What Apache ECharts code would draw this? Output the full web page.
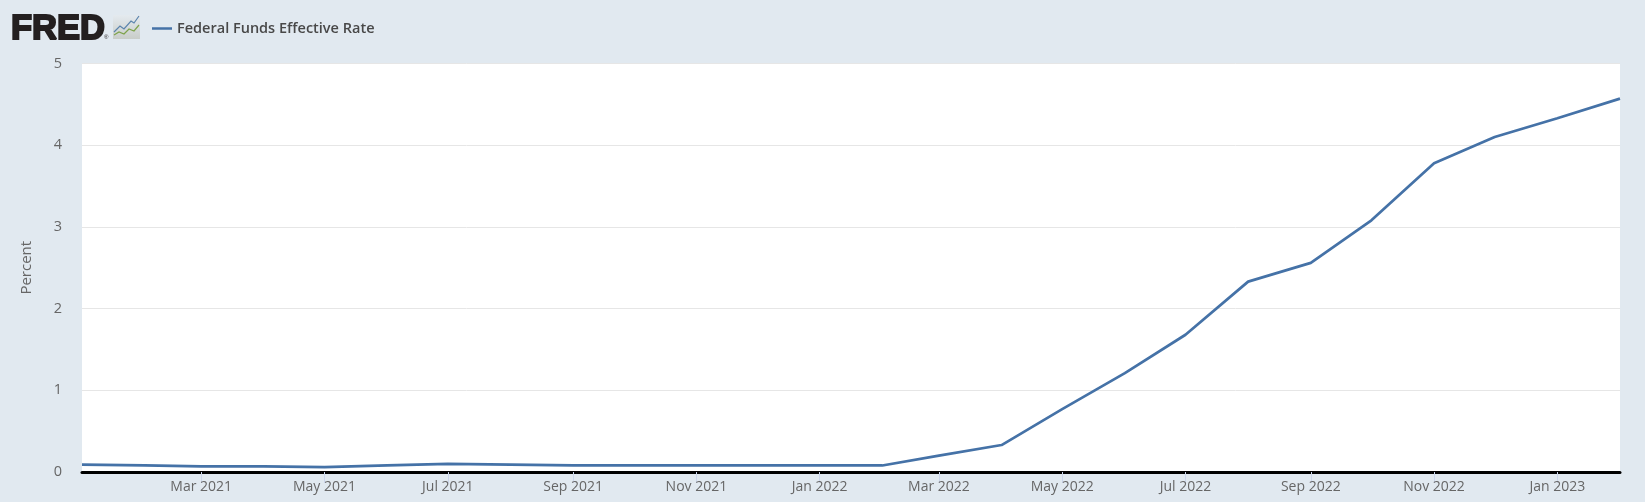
<!DOCTYPE html>
<html><head><meta charset="utf-8">
<script src="https://cdn.jsdelivr.net/npm/echarts@6/dist/echarts.min.js"></script>
<style>html,body{margin:0;padding:0;background:#e1e9f0}#c{width:1645px;height:502px}</style>
</head><body><div id="c"></div>
<script>
const seriesName = 'Federal Funds Effective Rate';
const months = ['2021-01','2021-02','2021-03','2021-04','2021-05','2021-06','2021-07','2021-08','2021-09','2021-10','2021-11','2021-12','2022-01','2022-02','2022-03','2022-04','2022-05','2022-06','2022-07','2022-08','2022-09','2022-10','2022-11','2022-12','2023-01','2023-02'];
const rates = [0.09,0.08,0.07,0.07,0.06,0.08,0.10,0.09,0.08,0.08,0.08,0.08,0.08,0.08,0.20,0.33,0.77,1.21,1.68,2.33,2.56,3.08,3.78,4.10,4.33,4.57];
const tickMonths = ['2021-03','2021-05','2021-07','2021-09','2021-11','2022-01','2022-03','2022-05','2022-07','2022-09','2022-11','2023-01'];
const monthNames = ['Jan','Feb','Mar','Apr','May','Jun','Jul','Aug','Sep','Oct','Nov','Dec'];
const ts = m => { const [y,mo] = m.split('-').map(Number); return Date.UTC(y,mo-1,1); };
const font = '"Open Sans"';
const chart = echarts.init(document.getElementById('c'), null, {renderer:'canvas'});
chart.setOption({
  animation:false,
  backgroundColor:'#e1e9f0',
  grid:{left:82,right:25,top:63.5,bottom:30,containLabel:false,backgroundColor:'#ffffff',show:true,borderWidth:0},
  legend:{show:true,left:147,top:16,icon:'rect',itemWidth:20,itemHeight:2.5,itemGap:6,
    textStyle:{fontFamily:font,fontSize:14.5,fontWeight:600,color:'#484848'},data:[seriesName]},
  xAxis:{type:'value',min:ts(months[0]),max:ts(months[months.length-1]),
    axisLine:{show:true,onZero:false,lineStyle:{color:'#000',width:3}},
    axisTick:{show:true,length:11,customValues:tickMonths.map(ts),lineStyle:{color:'#ccd6eb',width:1}},
    axisLabel:{show:true,customValues:tickMonths.map(ts),margin:8,hideOverlap:false,
      fontFamily:font,fontSize:14,color:'#666',
      formatter:v=>{const d=new Date(v);return monthNames[d.getUTCMonth()]+' '+d.getUTCFullYear();}},
    splitLine:{show:false}},
  yAxis:{type:'value',min:0,max:5,interval:1,name:'Percent',nameLocation:'middle',nameGap:48,nameRotate:90,
    nameTextStyle:{fontFamily:font,fontSize:15,color:'#666'},
    axisLine:{show:false},axisTick:{show:false},
    axisLabel:{margin:20,fontFamily:font,fontSize:14.5,color:'#666',padding:[1,0,0,0]},
    splitLine:{lineStyle:{color:'#e6e6e6',width:1}}},
  series:[{name:seriesName,type:'line',showSymbol:false,symbol:'none',smooth:false,clip:true,
    lineStyle:{color:'#4572a7',width:2.7},itemStyle:{color:'#4572a7'},
    data:months.map((m,i)=>[ts(m),rates[i]])}],
  graphic:[
    {type:'text',left:10,top:10.5,style:{text:'FRED',fontFamily:'"Liberation Sans"',fontWeight:900,fontSize:34.5,fill:'#231f20',stroke:'#231f20',lineWidth:2}},
    {type:'text',left:104,top:34,style:{text:'®',fontFamily:'"Liberation Sans"',fontSize:6,fill:'#231f20'}},
    {type:'rect',shape:{x:113,y:15,width:27,height:24},style:{fill:{type:'linear',x:0,y:0,x2:0,y2:1,colorStops:[{offset:0,color:'#e4eaef'},{offset:1,color:'#c9cdc9'}]}}},
    {type:'polyline',shape:{points:[[114,32],[120,26],[124,29],[131,21],[134,23],[139,16]]},style:{fill:'none',stroke:'#5b84ad',lineWidth:1.2}},
    {type:'polyline',shape:{points:[[114,35],[119,32],[124,34],[129,29],[134,31],[139,25]]},style:{fill:'none',stroke:'#7ea34b',lineWidth:1.2}}
  ]
});
</script></body></html>
